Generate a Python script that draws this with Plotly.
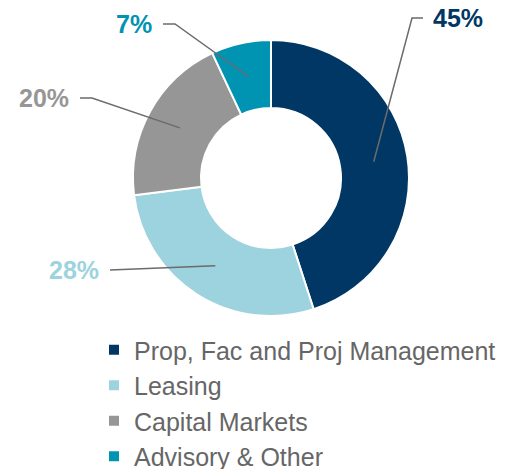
import math
import plotly.graph_objects as go

# slice data, clockwise from 12 o'clock
labels = ["Prop, Fac and Proj Management", "Leasing", "Capital Markets", "Advisory & Other"]
values = [45, 28, 20, 7]
colors = ["#003764", "#9dd3de", "#969696", "#0093b2"]

W, H = 522, 469
cx, cy = 271, 178          # pie centre, px
r_out, r_in = 138, 70
r_mid = (r_out + r_in) / 2

# label layout: (elbow x, elbow y, end x, text side)
label_layout = [
    (412, 18, 423, "left"),
    (110, 270, 110, "right"),
    (92, 98, 80, "right"),
    (175, 24, 163, "right"),
]


def px2paper(x, y):
    return x / W, 1 - y / H


fig = go.Figure(go.Pie(
    labels=labels, values=values, sort=False, direction="clockwise", rotation=0,
    hole=r_in / r_out, textinfo="none",
    marker=dict(colors=colors, line=dict(color="white", width=2)),
    domain=dict(x=[(cx - r_out) / W, (cx + r_out) / W],
                y=[1 - (cy + r_out) / H, 1 - (cy - r_out) / H]),
))

shapes, annots = [], []
total = sum(values)
cum = 0
for v, c, (ex, ey, endx, side) in zip(values, colors, label_layout):
    theta = 2 * math.pi * (cum + v / 2) / total
    cum += v
    ax_ = cx + r_mid * math.sin(theta)
    ay_ = cy - r_mid * math.cos(theta)
    pts = [px2paper(ax_, ay_), px2paper(ex, ey), px2paper(endx, ey)]
    path = "M {} {} L {} {} L {} {}".format(*[p for pt in pts for p in pt])
    shapes.append(dict(type="path", xref="paper", yref="paper", path=path,
                       line=dict(color="#6b6b6b", width=1.5)))
    tx = endx + 8 if side == "left" else endx - 9
    annots.append(dict(x=tx / W, y=1 - ey / H, xref="paper", yref="paper",
                       text="<b>{}%</b>".format(round(100 * v / total)),
                       showarrow=False, xanchor=side, yanchor="middle",
                       font=dict(size=25, color=c)))

fig.update_layout(
    width=W, height=H,
    margin=dict(l=0, r=0, t=0, b=0, autoexpand=False),
    paper_bgcolor="white", plot_bgcolor="white",
    font=dict(family="Arial, Liberation Sans, sans-serif"),
    shapes=shapes, annotations=annots,
    legend=dict(x=94 / W, y=1 - 327 / H, xanchor="left", yanchor="top",
                font=dict(size=25, color="#666666"),
                itemclick=False, tracegroupgap=0),
)

# drop the default 8px body margin so the figure sits at the window's corner
fig.write_html("out.html", config={"displayModeBar": False},
               post_script="document.body.style.margin='0';")
